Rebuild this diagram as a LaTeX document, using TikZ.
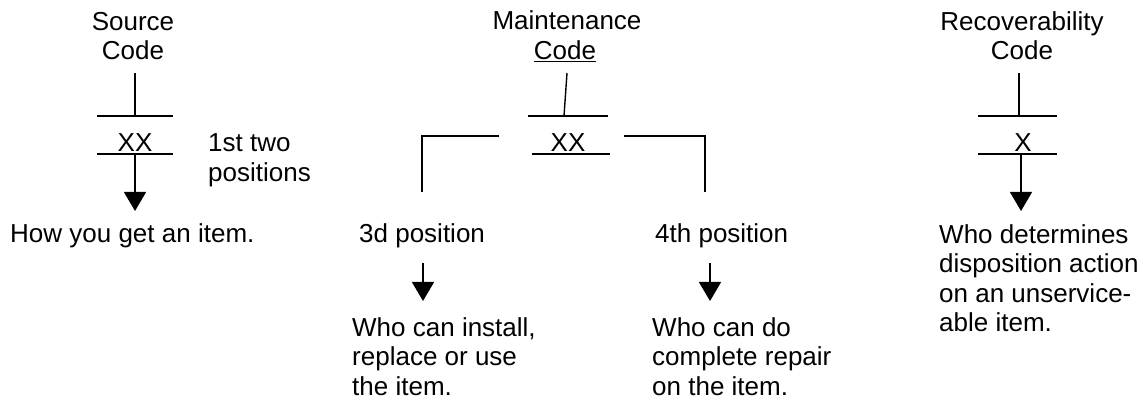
\documentclass[tikz,border=0pt]{standalone}
\usepackage{fontspec}
\setmainfont{Liberation Sans}
\usetikzlibrary{arrows.meta}
\tikzset{
  txt/.style={inner sep=0pt, font=\fontsize{26}{29.5}\selectfont},
  ltxt/.style={txt, anchor=base west, align=left},
  ctxt/.style={txt, anchor=base, align=center},
  ln/.style={line width=1.4pt, line cap=butt},
  arr/.style={ln, -{Triangle[length=19pt,width=22pt]}}
}
\begin{document}
\begin{tikzpicture}[x=1pt,y=-1pt]
\useasboundingbox (0,0) rectangle (1143,403);
% (multi-line nodes are placed by the baseline of their last line)
% Source code column
\node[ctxt] (srct) at (133,60) {Source\\Code};
\node[ctxt] (srcx) at (135,152) {XX};
\node[ltxt] (srcpos) at (208,181.5) {1st two\\positions};
\node[ltxt] (srcd) at (10,243) {How you get an item.};
\coordinate (s1) at (135,73);
\coordinate (s2) at (135,116);
\coordinate (s3) at (135,154);
\coordinate (s4) at (135,211);
\coordinate (sa1) at (97,116); \coordinate (sa2) at (173,116);
\coordinate (sb1) at (97,154); \coordinate (sb2) at (173,154);
\draw[ln] (s1) -- (s2);
\draw[ln] (sa1) -- (sa2);
\draw[ln] (sb1) -- (sb2);
\draw[arr] (s3) -- (s4);
% Maintenance code column
\node[ctxt] (mt1) at (567,30) {Maintenance};
\node[ctxt] (mt2) at (565,60) {\underline{Code}};
\node[ctxt] (mx) at (568,152) {XX};
\node[ltxt] (m3) at (359,243) {3d position};
\node[ltxt] (m4) at (655,243) {4th position};
\node[ltxt] (m3d) at (352,395) {Who can install,\\replace or use\\the item.};
\node[ltxt] (m4d) at (652,395) {Who can do\\complete repair\\on the item.};
\coordinate (m1) at (567,73);
\coordinate (m2) at (564,116);
\coordinate (ma1) at (528,116); \coordinate (ma2) at (608,116);
\coordinate (mb1) at (532,154); \coordinate (mb2) at (610,154);
\coordinate (lb1) at (499,136); \coordinate (lb2) at (422,136); \coordinate (lb3) at (422,192);
\coordinate (rb1) at (624,136); \coordinate (rb2) at (705,136); \coordinate (rb3) at (705,192);
\coordinate (a3t) at (423,263); \coordinate (a3b) at (423,301);
\coordinate (a4t) at (710,263); \coordinate (a4b) at (710,301);
\draw[ln] (m1) -- (m2);
\draw[ln] (ma1) -- (ma2);
\draw[ln] (mb1) -- (mb2);
\draw[ln] (lb1) -- (lb2) -- (lb3);
\draw[ln] (rb1) -- (rb2) -- (rb3);
\draw[arr] (a3t) -- (a3b);
\draw[arr] (a4t) -- (a4b);
% Recoverability code column
\node[ctxt] (rt) at (1022,60) {Recoverability\\Code};
\node[ctxt] (rx) at (1023,152) {X};
\node[ltxt] (rd) at (939,331.5) {Who determines\\disposition action\\on an unservice-\\able item.};
\coordinate (r1) at (1019,73);
\coordinate (r2) at (1019,116);
\coordinate (r3) at (1021,154);
\coordinate (r4) at (1021,211);
\coordinate (ra1) at (978,116); \coordinate (ra2) at (1057,116);
\coordinate (rb1x) at (978,154); \coordinate (rb2x) at (1057,154);
\draw[ln] (r1) -- (r2);
\draw[ln] (ra1) -- (ra2);
\draw[ln] (rb1x) -- (rb2x);
\draw[arr] (r3) -- (r4);
\end{tikzpicture}
\end{document}
